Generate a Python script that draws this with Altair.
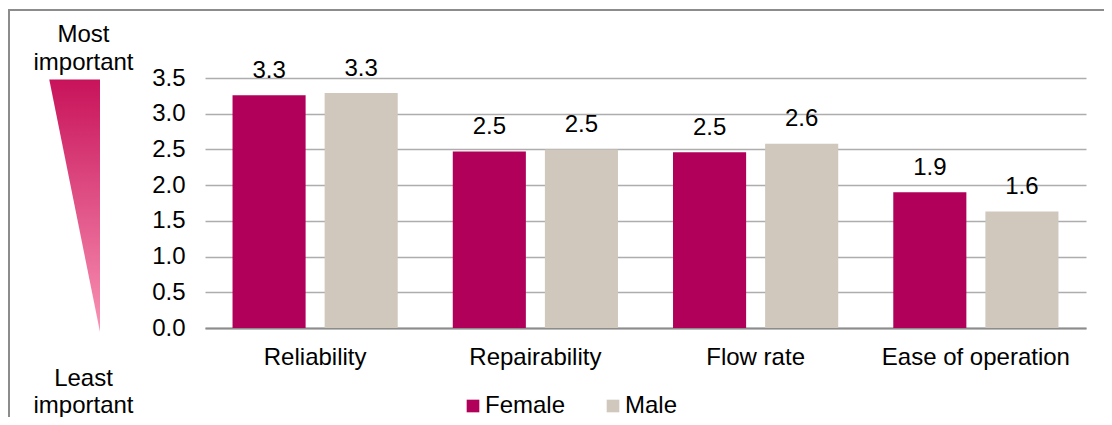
import altair as alt
import pandas as pd

categories = ["Reliability", "Repairability", "Flow rate", "Ease of operation"]
groups = ["Female", "Male"]
female_values = [3.26, 2.47, 2.46, 1.90]
male_values = [3.29, 2.50, 2.58, 1.63]
y_ticks = [0, 0.5, 1, 1.5, 2, 2.5, 3, 3.5]
colors = ["#B1005A", "#D0C7BD"]

rows = []
for c, f, m in zip(categories, female_values, male_values):
    rows.append({"cat": c, "sex": "Female", "val": f})
    rows.append({"cat": c, "sex": "Male", "val": m})
df = pd.DataFrame(rows)

FONT = "Liberation Sans"

x_enc = alt.X("cat:N", sort=categories,
              scale=alt.Scale(paddingInner=0.25, paddingOuter=0.125),
              axis=alt.Axis(title=None, labelAngle=0, labelFontSize=24, labelColor="black",
                            labelPadding=17, ticks=False, domainColor="#8C8C8C",
                            domainWidth=2, grid=False, labelFont=FONT, labelLimit=0,
                            labelOverlap=False))
xo_enc = alt.XOffset("sex:N", sort=groups, scale=alt.Scale(paddingInner=0.2065, paddingOuter=0))
y_enc = alt.Y("val:Q", scale=alt.Scale(domain=[0, 3.5], nice=False),
              axis=alt.Axis(title=None, values=y_ticks, tickCount=8, format=".1f",
                            labelFontSize=24, labelColor="black", labelPadding=20,
                            ticks=False, domain=False, gridColor="#ADADAD", gridWidth=1.3,
                            labelFont=FONT, labelOverlap=False, labelBound=False,
                            labelFlush=False))

base = alt.Chart(df)
bars = base.mark_bar().encode(
    x=x_enc, xOffset=xo_enc, y=y_enc,
    color=alt.Color("sex:N", sort=groups, scale=alt.Scale(domain=groups, range=colors),
                    legend=alt.Legend(orient="none", legendX=256, legendY=316,
                                      direction="horizontal", title=None,
                                      symbolType="square", symbolSize=160,
                                      symbolStrokeWidth=0, labelFontSize=24,
                                      labelColor="black", labelOffset=0,
                                      columnPadding=35, padding=0, labelFont=FONT,
                                      labelLimit=0)),
)
labels = base.mark_text(baseline="alphabetic", dy=-17.5, fontSize=24, color="black",
                        font=FONT).encode(
    x=x_enc, xOffset=xo_enc, y=y_enc,
    text=alt.Text("val:Q", format=".1f"),
)

one = pd.DataFrame({"k": [0]})
deco = alt.Chart(one)
border_top = deco.mark_rule(color="#8C8C8C", strokeWidth=2).encode(
    x=alt.value(-197), x2=alt.value(1000), y=alt.value(-68))
border_left = deco.mark_rule(color="#8C8C8C", strokeWidth=2).encode(
    x=alt.value(-196), y=alt.value(-69), y2=alt.value(345))

grad = alt.LinearGradient(gradient="linear",
                          stops=[alt.GradientStop(color="#C8135A", offset=0),
                                 alt.GradientStop(color="#F993B4", offset=1)],
                          x1=0, x2=0, y1=0, y2=1)
triangle = deco.mark_point(shape="M -0.402 -1 L 0 -1 L 0 1 Z", filled=True, fill=grad,
                           opacity=1, strokeWidth=0, size=63706).encode(
    x=alt.value(-105), y=alt.value(127.8))

def txt(s, x, y):
    return deco.mark_text(text=s, fontSize=24, color="black", font=FONT,
                          align="center", baseline="alphabetic").encode(
        x=alt.value(x), y=alt.value(y))

t1 = txt("Most", -121.5, -36)
t2 = txt("important", -121.5, -7.7)
t3 = txt("Least", -121.5, 308)
t4 = txt("important", -121.5, 334.5)

chart = alt.layer(bars, labels, border_top, border_left, triangle, t1, t2, t3, t4).properties(
    width=881, height=250,
    padding={"left": 197, "top": 70, "right": 18, "bottom": 89},
    autosize="none", background="white",
).configure_view(strokeWidth=0)

chart.save("out.html", embed_options={"renderer": "svg", "actions": False})
